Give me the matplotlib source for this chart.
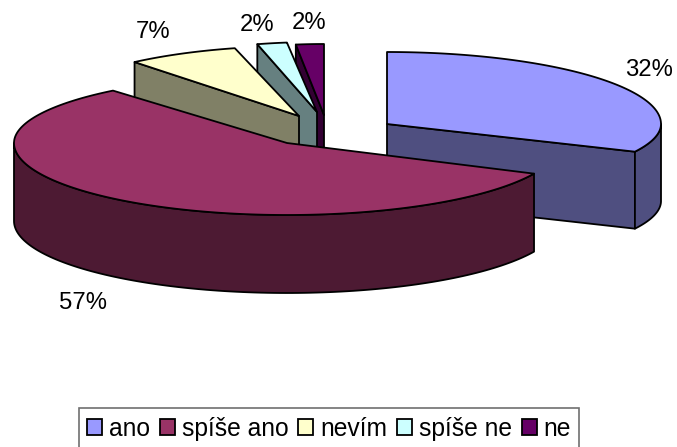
import numpy as np
import matplotlib
matplotlib.use("Agg")
import matplotlib.pyplot as plt
from matplotlib.patches import Polygon, Patch

plt.rcParams["font.family"] = ["Liberation Sans", "DejaVu Sans"]

# Survey answers and their shares in percent
categories = ["ano", "spíše ano", "nevím", "spíše ne", "ne"]
shares = [32, 57, 7, 2, 2]

# Slice colours: top surface and shaded side
top_colors = ["#9999FF", "#993366", "#FFFFCC", "#CCFFFF", "#660066"]
side_colors = ["#4F4F80", "#4D1A33", "#808066", "#668080", "#330033"]

# Pixel layout of the exploded, tilted pie: apex and ellipse radii per slice.
# The far and near halves of each ellipse differ because of the view's perspective.
apex_x = [387, 287, 299, 317, 324]
apex_y = [124, 143, 116, 112, 115]
radius_x = [274, 273, 258, 240, 225]
radius_y_far = [72, 68, 70, 70, 71]
radius_y_near = [65, 72, 70, 70, 71]
depth = [77, 78, 78, 78, 78]
label_x = [649, 83, 153, 257, 309]
label_y = [70.5, 303, 32.5, 25, 23]

LABEL_SIZE = 17.2
LEGEND_SIZE = 17.7
LINE = 1.3

fig = plt.figure(figsize=(6.77, 4.47), dpi=100)
ax = fig.add_axes([0, 0, 1, 1])
ax.set_xlim(0, 677)
ax.set_ylim(447, 0)
ax.axis("off")


def rim_point(i, theta):
    """Point on the top rim of slice i, theta in radians clockwise from north."""
    c = np.cos(theta)
    ry = np.where(c > 0, radius_y_far[i], radius_y_near[i])
    return apex_x[i] + radius_x[i] * np.sin(theta), apex_y[i] - ry * c


def add_face(points, color, z):
    ax.add_patch(Polygon(points, closed=True, facecolor=color, edgecolor="black",
                         linewidth=LINE, joinstyle="round", zorder=z))


edges = np.radians(np.cumsum([0] + shares) * 3.6)

# Back slices first, the large front slice last
draw_order = [4, 3, 2, 0, 1]
for z, i in enumerate(draw_order):
    start, end = edges[i], edges[i + 1]
    base = z * 10
    center = (apex_x[i], apex_y[i])
    below = (apex_x[i], apex_y[i] + depth[i])

    # Radial cut faces, only where they turn towards the viewer
    for theta, normal in ((start, start - np.pi / 2), (end, end + np.pi / 2)):
        if np.cos(normal) < -1e-6:
            px, py = rim_point(i, theta)
            add_face([center, (px, py), (px, py + depth[i]), below], side_colors[i], base + 1)

    # Outer wall on the front half of the ellipse
    lo, hi = max(start, np.pi / 2), min(end, 3 * np.pi / 2)
    if hi > lo:
        t = np.linspace(lo, hi, 120)
        xs, ys = rim_point(i, t)
        wall = list(zip(xs, ys)) + list(zip(xs[::-1], ys[::-1] + depth[i]))
        add_face(wall, side_colors[i], base + 2)

    # Top surface
    t = np.linspace(start, end, 160)
    xs, ys = rim_point(i, t)
    add_face([center] + list(zip(xs, ys)), top_colors[i], base + 3)

for x, y, share in zip(label_x, label_y, shares):
    ax.text(x, y, f"{share}%", ha="center", va="center", fontsize=LABEL_SIZE,
            color="black", zorder=100)

handles = [Patch(facecolor=c, edgecolor="black", linewidth=LINE) for c in top_colors]
legend = ax.legend(handles, categories, ncol=5, fontsize=LEGEND_SIZE, loc="center",
                   bbox_to_anchor=(329 / 677, 1 - 429 / 447), frameon=True, fancybox=False,
                   handlelength=0.62, handleheight=0.62, handletextpad=0.27,
                   columnspacing=0.4, borderpad=0.35, borderaxespad=0, framealpha=1)
legend.get_frame().set_edgecolor("#707070")
legend.get_frame().set_linewidth(1.2)

fig.savefig("out.png", dpi=100, facecolor="white")
